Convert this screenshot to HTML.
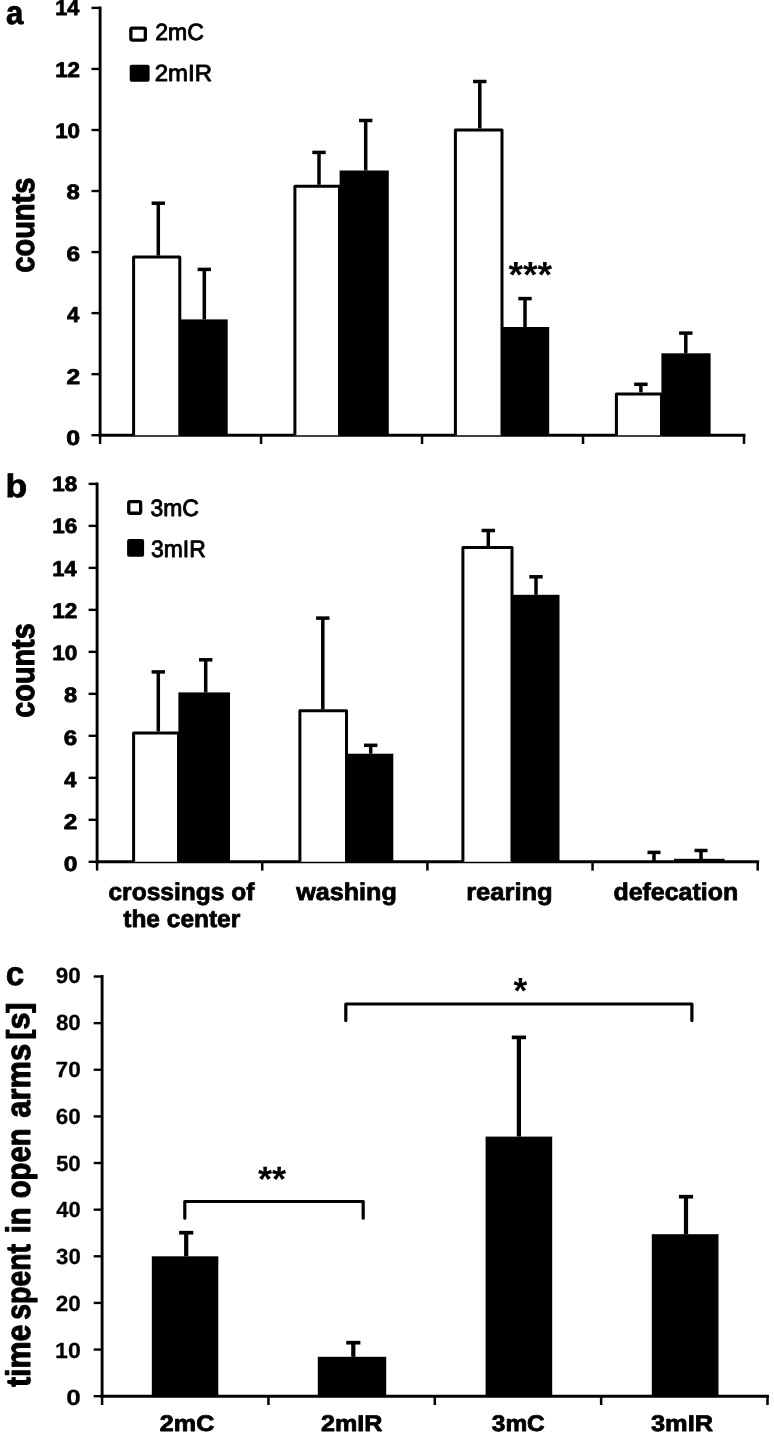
<!DOCTYPE html>
<html><head><meta charset="utf-8"><title>chart</title>
<style>
html,body{margin:0;padding:0;background:#fff;}
body{width:774px;height:1433px;overflow:hidden;font-family:"Liberation Sans",sans-serif;}
svg{display:block;font-family:"Liberation Sans",sans-serif;}
</style></head><body>
<svg width="774" height="1433" viewBox="0 0 774 1433">
<rect width="774" height="1433" fill="#fff"/>
<defs><filter id="soft" x="0" y="0" width="774" height="1433" filterUnits="userSpaceOnUse"><feGaussianBlur stdDeviation="0.45"/></filter></defs>
<g fill="#000" stroke="#000" stroke-linejoin="round" text-rendering="geometricPrecision" filter="url(#soft)">
<line x1="100.1" y1="6.45" x2="100.1" y2="436.65" stroke-width="2.9"/>
<line x1="91.5" y1="435.2" x2="100.1" y2="435.2" stroke-width="2.4"/>
<text transform="translate(66.31 444.89) scale(1.1917 1)" font-size="20.85" font-weight="bold" stroke-width="0.8">0</text>
<line x1="91.5" y1="374.16" x2="100.1" y2="374.16" stroke-width="2.4"/>
<text transform="translate(66.44 383.73) scale(1.1627 1)" font-size="21.14" font-weight="bold" stroke-width="0.8">2</text>
<line x1="91.5" y1="313.11" x2="100.1" y2="313.11" stroke-width="2.4"/>
<text transform="translate(66.97 322.35) scale(1.0283 1)" font-size="21.45" font-weight="bold" stroke-width="0.8">4</text>
<line x1="91.5" y1="252.07" x2="100.1" y2="252.07" stroke-width="2.4"/>
<text transform="translate(66.45 260.77) scale(1.1672 1)" font-size="20.85" font-weight="bold" stroke-width="0.8">6</text>
<line x1="91.5" y1="191.03" x2="100.1" y2="191.03" stroke-width="2.4"/>
<text transform="translate(66.58 199.4) scale(1.1436 1)" font-size="20.85" font-weight="bold" stroke-width="0.8">8</text>
<line x1="91.5" y1="129.99" x2="100.1" y2="129.99" stroke-width="2.4"/>
<text transform="translate(55.14 138.03) scale(1.0740 1)" font-size="20.85" font-weight="bold" stroke-width="0.8">10</text>
<line x1="91.5" y1="68.94" x2="100.1" y2="68.94" stroke-width="2.4"/>
<text transform="translate(55.14 76.86) scale(1.0589 1)" font-size="21.14" font-weight="bold" stroke-width="0.8">12</text>
<line x1="91.5" y1="7.9" x2="100.1" y2="7.9" stroke-width="2.4"/>
<text transform="translate(55.19 15.49) scale(1.0086 1)" font-size="21.45" font-weight="bold" stroke-width="0.8">14</text>
<line x1="98.65" y1="435.2" x2="745.45" y2="435.2" stroke-width="2.9"/>
<line x1="100.1" y1="435.2" x2="100.1" y2="444" stroke-width="2.5"/>
<line x1="261.07" y1="435.2" x2="261.07" y2="444" stroke-width="2.5"/>
<line x1="422.05" y1="435.2" x2="422.05" y2="444" stroke-width="2.5"/>
<line x1="583.02" y1="435.2" x2="583.02" y2="444" stroke-width="2.5"/>
<line x1="744" y1="435.2" x2="744" y2="444" stroke-width="2.5"/>
<text transform="translate(5.97 24.17) scale(0.9357 1)" font-size="33.27" font-weight="bold" stroke-width="0.8">a</text>
<text transform="translate(33.97 272.76) rotate(-90) scale(0.8834 1)" font-size="32.88" font-weight="bold" stroke-width="1.1">counts</text>
<rect x="130.85" y="28.05" width="14.5" height="12" fill="#fff" stroke-width="3.3" rx="1.5"/>
<text transform="translate(155.25 40.36) scale(0.9787 1)" font-size="23.52" font-weight="normal" stroke-width="0.9">2mC</text>
<rect x="129.7" y="64.7" width="19.9" height="17.1" fill="#000" stroke="none" rx="2"/>
<text transform="translate(154.7 81.4) scale(1.0295 1)" font-size="23.29" font-weight="normal" stroke-width="0.9">2mIR</text>
<line x1="158.3" y1="203.2" x2="158.3" y2="255.6" stroke-width="3.5"/>
<line x1="151.6" y1="203.2" x2="165" y2="203.2" stroke-width="3.5"/>
<line x1="204.3" y1="269.4" x2="204.3" y2="319.4" stroke-width="3.5"/>
<line x1="197.6" y1="269.4" x2="211" y2="269.4" stroke-width="3.5"/>
<path d="M133.6 435.2V257.1H179.8V435.2" fill="#fff" stroke-width="3"/>
<rect x="180.5" y="319.4" width="47.2" height="115.8" fill="#000" stroke="none"/>
<line x1="319" y1="152.4" x2="319" y2="184.8" stroke-width="3.5"/>
<line x1="312.3" y1="152.4" x2="325.7" y2="152.4" stroke-width="3.5"/>
<line x1="365.7" y1="120.5" x2="365.7" y2="170.5" stroke-width="3.5"/>
<line x1="359" y1="120.5" x2="372.4" y2="120.5" stroke-width="3.5"/>
<path d="M294.9 435.2V186.3H339.5V435.2" fill="#fff" stroke-width="3"/>
<rect x="339.6" y="170.5" width="49.2" height="264.7" fill="#000" stroke="none"/>
<line x1="479.8" y1="81.5" x2="479.8" y2="128.5" stroke-width="3.5"/>
<line x1="473.1" y1="81.5" x2="486.5" y2="81.5" stroke-width="3.5"/>
<line x1="525" y1="298.6" x2="525" y2="327" stroke-width="3.5"/>
<line x1="518.3" y1="298.6" x2="531.7" y2="298.6" stroke-width="3.5"/>
<path d="M455.4 435.2V130H502V435.2" fill="#fff" stroke-width="3"/>
<rect x="501.7" y="327" width="47.5" height="108.2" fill="#000" stroke="none"/>
<line x1="640.9" y1="384.3" x2="640.9" y2="392.4" stroke-width="3.5"/>
<line x1="634.2" y1="384.3" x2="647.6" y2="384.3" stroke-width="3.5"/>
<line x1="685.8" y1="333.1" x2="685.8" y2="353.3" stroke-width="3.5"/>
<line x1="679.1" y1="333.1" x2="692.5" y2="333.1" stroke-width="3.5"/>
<path d="M616.4 435.2V393.9H661.5V435.2" fill="#fff" stroke-width="3"/>
<rect x="661.4" y="353.3" width="49.2" height="81.9" fill="#000" stroke="none"/>
<text transform="translate(508.41 287.39) scale(1.0331 1)" font-size="36.22" font-weight="bold" stroke="none">***</text>
<line x1="97.1" y1="482.45" x2="97.1" y2="863.25" stroke-width="2.9"/>
<line x1="88.6" y1="861.8" x2="97.1" y2="861.8" stroke-width="2.4"/>
<text transform="translate(63.71 871.49) scale(1.1817 1)" font-size="20.85" font-weight="bold" stroke-width="0.8">0</text>
<line x1="88.6" y1="819.81" x2="97.1" y2="819.81" stroke-width="2.4"/>
<text transform="translate(63.85 829.42) scale(1.1529 1)" font-size="21.14" font-weight="bold" stroke-width="0.8">2</text>
<line x1="88.6" y1="777.82" x2="97.1" y2="777.82" stroke-width="2.4"/>
<text transform="translate(64.37 787.14) scale(1.0196 1)" font-size="21.45" font-weight="bold" stroke-width="0.8">4</text>
<line x1="88.6" y1="735.83" x2="97.1" y2="735.83" stroke-width="2.4"/>
<text transform="translate(63.86 744.65) scale(1.1573 1)" font-size="20.85" font-weight="bold" stroke-width="0.8">6</text>
<line x1="88.6" y1="693.84" x2="97.1" y2="693.84" stroke-width="2.4"/>
<text transform="translate(63.99 702.38) scale(1.1339 1)" font-size="20.85" font-weight="bold" stroke-width="0.8">8</text>
<line x1="88.6" y1="651.86" x2="97.1" y2="651.86" stroke-width="2.4"/>
<text transform="translate(52.23 660.1) scale(1.0836 1)" font-size="20.85" font-weight="bold" stroke-width="0.8">10</text>
<line x1="88.6" y1="609.87" x2="97.1" y2="609.87" stroke-width="2.4"/>
<text transform="translate(52.23 618.03) scale(1.0683 1)" font-size="21.14" font-weight="bold" stroke-width="0.8">12</text>
<line x1="88.6" y1="567.88" x2="97.1" y2="567.88" stroke-width="2.4"/>
<text transform="translate(52.28 575.75) scale(1.0176 1)" font-size="21.45" font-weight="bold" stroke-width="0.8">14</text>
<line x1="88.6" y1="525.89" x2="97.1" y2="525.89" stroke-width="2.4"/>
<text transform="translate(52.24 533.26) scale(1.0782 1)" font-size="20.85" font-weight="bold" stroke-width="0.8">16</text>
<line x1="88.6" y1="483.9" x2="97.1" y2="483.9" stroke-width="2.4"/>
<text transform="translate(52.25 490.98) scale(1.0729 1)" font-size="20.85" font-weight="bold" stroke-width="0.8">18</text>
<line x1="95.65" y1="861.8" x2="759.15" y2="861.8" stroke-width="2.9"/>
<line x1="97.1" y1="861.8" x2="97.1" y2="870.6" stroke-width="2.5"/>
<line x1="262.25" y1="861.8" x2="262.25" y2="870.6" stroke-width="2.5"/>
<line x1="427.4" y1="861.8" x2="427.4" y2="870.6" stroke-width="2.5"/>
<line x1="592.55" y1="861.8" x2="592.55" y2="870.6" stroke-width="2.5"/>
<line x1="757.7" y1="861.8" x2="757.7" y2="870.6" stroke-width="2.5"/>
<text transform="translate(5.6 497.28) scale(1.0946 1)" font-size="32.38" font-weight="bold" stroke-width="0.8">b</text>
<text transform="translate(33.97 717.65) rotate(-90) scale(0.8758 1)" font-size="32.88" font-weight="bold" stroke-width="1.1">counts</text>
<rect x="128.75" y="501.65" width="11.9" height="11.6" fill="#fff" stroke-width="3.3" rx="1.5"/>
<text transform="translate(150.48 516.06) scale(0.9681 1)" font-size="23.66" font-weight="normal" stroke-width="0.9">3mC</text>
<rect x="127.1" y="539" width="17" height="17.8" fill="#000" stroke="none" rx="2"/>
<text transform="translate(150.98 557.46) scale(0.9626 1)" font-size="23.8" font-weight="normal" stroke-width="0.9">3mIR</text>
<line x1="158.3" y1="671.9" x2="158.3" y2="731.5" stroke-width="3.5"/>
<line x1="151.6" y1="671.9" x2="165" y2="671.9" stroke-width="3.5"/>
<line x1="205.7" y1="659.8" x2="205.7" y2="692.4" stroke-width="3.5"/>
<line x1="199" y1="659.8" x2="212.4" y2="659.8" stroke-width="3.5"/>
<path d="M133.6 861.8V733H178.5V861.8" fill="#fff" stroke-width="3"/>
<rect x="178.4" y="692.4" width="51.6" height="169.4" fill="#000" stroke="none"/>
<line x1="322.8" y1="618.1" x2="322.8" y2="709.2" stroke-width="3.5"/>
<line x1="316.1" y1="618.1" x2="329.5" y2="618.1" stroke-width="3.5"/>
<line x1="370.7" y1="745.3" x2="370.7" y2="753.7" stroke-width="3.5"/>
<line x1="364" y1="745.3" x2="377.4" y2="745.3" stroke-width="3.5"/>
<path d="M299.9 861.8V710.7H346.5V861.8" fill="#fff" stroke-width="3"/>
<rect x="346.5" y="753.7" width="46.8" height="108.1" fill="#000" stroke="none"/>
<line x1="488.3" y1="530.5" x2="488.3" y2="546.1" stroke-width="3.5"/>
<line x1="481.6" y1="530.5" x2="495" y2="530.5" stroke-width="3.5"/>
<line x1="536" y1="576.8" x2="536" y2="594.8" stroke-width="3.5"/>
<line x1="529.3" y1="576.8" x2="542.7" y2="576.8" stroke-width="3.5"/>
<path d="M462.9 861.8V547.6H512V861.8" fill="#fff" stroke-width="3"/>
<rect x="512" y="594.8" width="47.5" height="267" fill="#000" stroke="none"/>
<line x1="654" y1="852.4" x2="654" y2="861.8" stroke-width="3.5"/>
<line x1="647.5" y1="852.4" x2="660.5" y2="852.4" stroke-width="3.5"/>
<line x1="701" y1="850.5" x2="701" y2="861.8" stroke-width="3.5"/>
<line x1="694.5" y1="850.5" x2="707.5" y2="850.5" stroke-width="3.5"/>
<rect x="674" y="858.8" width="50.5" height="3" fill="#000" stroke="none"/>
<text transform="translate(108.42 899.9) scale(1.0105 1)" font-size="24.3" font-weight="bold" stroke-width="0.8">crossings of</text>
<text transform="translate(123.26 926.5) scale(1.0074 1)" font-size="24.3" font-weight="bold" stroke-width="0.8">the center</text>
<text transform="translate(296.2 899.9) scale(1.0343 1)" font-size="24.3" font-weight="bold" stroke-width="0.8">washing</text>
<text transform="translate(466.14 899.9) scale(1.0506 1)" font-size="24.3" font-weight="bold" stroke-width="0.8">rearing</text>
<text transform="translate(613.4 899.9) scale(1.0271 1)" font-size="24.3" font-weight="bold" stroke-width="0.8">defecation</text>
<line x1="102.1" y1="975.05" x2="102.1" y2="1397.65" stroke-width="2.9"/>
<line x1="93.7" y1="1396.2" x2="102.1" y2="1396.2" stroke-width="2.4"/>
<text transform="translate(66.36 1404.68) scale(1.1881 1)" font-size="21.97" font-weight="bold" stroke-width="0.25">0</text>
<line x1="93.7" y1="1349.57" x2="102.1" y2="1349.57" stroke-width="2.4"/>
<text transform="translate(55.1 1357.88) scale(1.0506 1)" font-size="21.97" font-weight="bold" stroke-width="0.25">10</text>
<line x1="93.7" y1="1302.93" x2="102.1" y2="1302.93" stroke-width="2.4"/>
<text transform="translate(55.82 1311.07) scale(1.0202 1)" font-size="21.97" font-weight="bold" stroke-width="0.25">20</text>
<line x1="93.7" y1="1256.3" x2="102.1" y2="1256.3" stroke-width="2.4"/>
<text transform="translate(56.04 1264.27) scale(1.0104 1)" font-size="21.97" font-weight="bold" stroke-width="0.25">30</text>
<line x1="93.7" y1="1209.67" x2="102.1" y2="1209.67" stroke-width="2.4"/>
<text transform="translate(56.27 1217.47) scale(1.0009 1)" font-size="21.97" font-weight="bold" stroke-width="0.25">40</text>
<line x1="93.7" y1="1163.03" x2="102.1" y2="1163.03" stroke-width="2.4"/>
<text transform="translate(55.93 1170.66) scale(1.0153 1)" font-size="21.97" font-weight="bold" stroke-width="0.25">50</text>
<line x1="93.7" y1="1116.4" x2="102.1" y2="1116.4" stroke-width="2.4"/>
<text transform="translate(55.82 1123.86) scale(1.0202 1)" font-size="21.97" font-weight="bold" stroke-width="0.25">60</text>
<line x1="93.7" y1="1069.77" x2="102.1" y2="1069.77" stroke-width="2.4"/>
<text transform="translate(55.58 1077.06) scale(1.0301 1)" font-size="21.97" font-weight="bold" stroke-width="0.25">70</text>
<line x1="93.7" y1="1023.13" x2="102.1" y2="1023.13" stroke-width="2.4"/>
<text transform="translate(55.93 1030.25) scale(1.0153 1)" font-size="21.97" font-weight="bold" stroke-width="0.25">80</text>
<line x1="93.7" y1="976.5" x2="102.1" y2="976.5" stroke-width="2.4"/>
<text transform="translate(55.82 983.45) scale(1.0202 1)" font-size="21.97" font-weight="bold" stroke-width="0.25">90</text>
<line x1="100.65" y1="1396.2" x2="768.95" y2="1396.2" stroke-width="2.9"/>
<line x1="102.1" y1="1396.2" x2="102.1" y2="1405" stroke-width="2.5"/>
<line x1="268.45" y1="1396.2" x2="268.45" y2="1405" stroke-width="2.5"/>
<line x1="434.8" y1="1396.2" x2="434.8" y2="1405" stroke-width="2.5"/>
<line x1="601.15" y1="1396.2" x2="601.15" y2="1405" stroke-width="2.5"/>
<line x1="767.5" y1="1396.2" x2="767.5" y2="1405" stroke-width="2.5"/>
<text transform="translate(5.87 984.57) scale(0.9977 1)" font-size="33.27" font-weight="bold" stroke-width="0.8">c</text>
<text transform="translate(29.8 1387.1) rotate(-90) scale(0.8941 1)" font-size="34" font-weight="bold" stroke-width="1.1">time</text>
<text transform="translate(29.8 1319.8) rotate(-90) scale(0.8363 1)" font-size="34" font-weight="bold" stroke-width="1.1">spent</text>
<text transform="translate(29.8 1233.23) rotate(-90) scale(0.8531 1)" font-size="34" font-weight="bold" stroke-width="1.1">in</text>
<text transform="translate(29.8 1198.37) rotate(-90) scale(0.8611 1)" font-size="34" font-weight="bold" stroke-width="1.1">open</text>
<text transform="translate(29.8 1117.63) rotate(-90) scale(0.9090 1)" font-size="34" font-weight="bold" stroke-width="1.1">arms</text>
<text transform="translate(29.3 1039.78) rotate(-90) scale(0.9695 1)" font-size="31.5" font-weight="bold" stroke-width="1.1">[s]</text>
<line x1="186.2" y1="1232.7" x2="186.2" y2="1256.3" stroke-width="4.2"/>
<line x1="179.1" y1="1232.7" x2="193.3" y2="1232.7" stroke-width="3.7"/>
<rect x="151.8" y="1256.3" width="66.5" height="139.9" fill="#000" stroke="none"/>
<line x1="353.3" y1="1342.7" x2="353.3" y2="1356.8" stroke-width="4.2"/>
<line x1="346.2" y1="1342.7" x2="360.4" y2="1342.7" stroke-width="3.7"/>
<rect x="317.8" y="1356.8" width="68.4" height="39.4" fill="#000" stroke="none"/>
<line x1="518.9" y1="1037.4" x2="518.9" y2="1136.6" stroke-width="4.2"/>
<line x1="511.8" y1="1037.4" x2="526" y2="1037.4" stroke-width="3.7"/>
<rect x="485.6" y="1136.6" width="66.6" height="259.6" fill="#000" stroke="none"/>
<line x1="686" y1="1196.7" x2="686" y2="1234.2" stroke-width="4.2"/>
<line x1="678.9" y1="1196.7" x2="693.1" y2="1196.7" stroke-width="3.7"/>
<rect x="651.8" y="1234.2" width="66.7" height="162" fill="#000" stroke="none"/>
<text transform="translate(159.82 1431.2) scale(1.1120 1)" font-size="22.6" font-weight="bold" stroke-width="0.8">2mC</text>
<text transform="translate(321.02 1431.2) scale(1.1113 1)" font-size="22.6" font-weight="bold" stroke-width="0.8">2mIR</text>
<text transform="translate(491.79 1431.2) scale(1.0816 1)" font-size="22.6" font-weight="bold" stroke-width="0.8">3mC</text>
<text transform="translate(650.97 1431.2) scale(1.1233 1)" font-size="22.6" font-weight="bold" stroke-width="0.8">3mIR</text>
<polyline points="345.8,1020.6 345.8,1004 691.9,1004 691.9,1020.6" fill="none" stroke-width="3.2" stroke-linecap="round"/>
<polyline points="184.8,1218.2 184.8,1201.5 363.2,1201.5 363.2,1218.2" fill="none" stroke-width="3.2" stroke-linecap="round"/>
<text transform="translate(513.42 1002.59) scale(0.9737 1)" font-size="36.22" font-weight="bold" stroke="none">*</text>
<text transform="translate(258.02 1190.54) scale(1.0313 1)" font-size="35.14" font-weight="bold" stroke="none">**</text>
</g>
</svg>
</body></html>
